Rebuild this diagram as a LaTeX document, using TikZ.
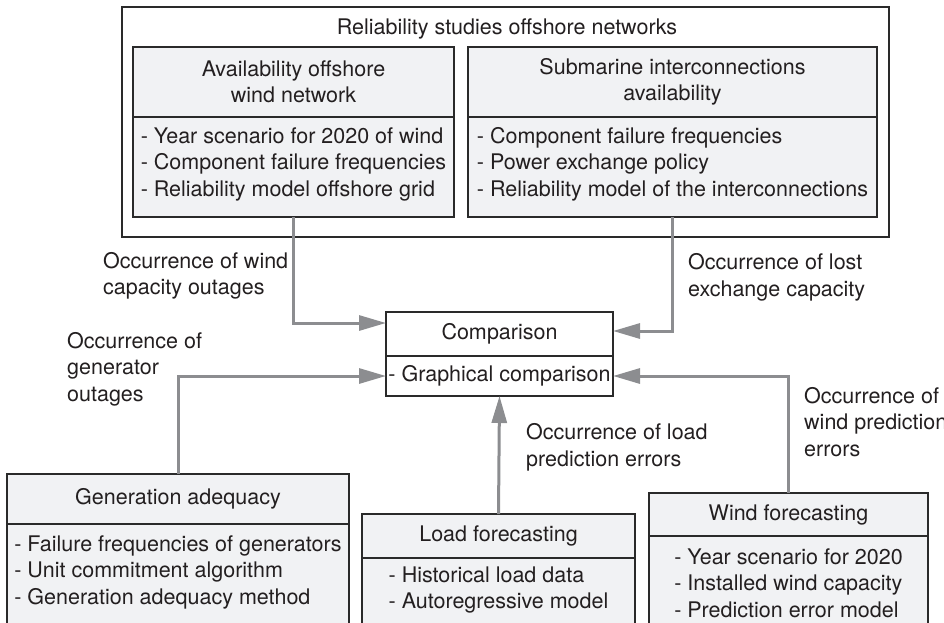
\documentclass[tikz,border=0pt]{standalone}
\usepackage{fontspec}
\setmainfont{TeX Gyre Heros}
\usetikzlibrary{arrows.meta,calc}
\definecolor{boxfill}{HTML}{F1F2F4}
\definecolor{boxline}{HTML}{2A2A2A}
\definecolor{flow}{HTML}{8C8D90}
\definecolor{ink}{HTML}{231F20}
\begin{document}
\begin{tikzpicture}[x=1pt,y=1pt,
  every node/.style={font=\fontsize{21.5pt}{26.5pt}\selectfont, text=ink},
  head/.style={draw=boxline, line width=1.4pt, fill=boxfill, inner sep=0pt,
    outer sep=0pt, anchor=north west, align=center},
  bodybox/.style={draw=boxline, line width=1.4pt, fill=boxfill, inner sep=0pt,
    outer sep=0pt, anchor=north west},
  plainbox/.style={draw=boxline, line width=1.4pt, fill=white, inner sep=0pt,
    outer sep=0pt, anchor=north west},
  list/.style={align=left, inner sep=0pt},
  note/.style={align=left, inner sep=0pt, anchor=west},
  flowline/.style={draw=flow, line width=3pt, -{Triangle[length=27pt,width=15pt]}}]

\useasboundingbox (0,0) rectangle (944,-622);

% group frame for the offshore network studies
\node[draw=boxline, line width=1.2pt, minimum width=767pt, minimum height=230pt,
  anchor=north west, inner sep=0pt, outer sep=0pt] (frame) at (122,-7) {};
\node (frametitle) at (507,-29) {Reliability studies offshore networks};

% offshore wind network availability
\node[head, minimum width=321pt, minimum height=70pt] (avh) at (133,-47)
  {Availability offshore\\wind network};
\node[bodybox, minimum width=321pt, minimum height=100pt] (avb) at (avh.south west) {};
\node[list] (avl) at (293.5,-164) {- Year scenario for 2020 of wind\\- Component failure frequencies\\- Reliability model offshore grid};

% submarine interconnections availability
\node[head, minimum width=409pt, minimum height=70pt] (sih) at (468,-47)
  {Submarine interconnections\\availability};
\node[bodybox, minimum width=409pt, minimum height=100pt] (sib) at (sih.south west) {};
\node[list] (sil) at (672.5,-164) {- Component failure frequencies\\- Power exchange policy\\- Reliability model of the interconnections};

% comparison
\node[plainbox, minimum width=227pt, minimum height=44pt] (cmph) at (386,-312) {Comparison};
\node[plainbox, minimum width=227pt, minimum height=40pt] (cmpb) at (cmph.south west) {- Graphical comparison};

% generation adequacy
\node[head, minimum width=342pt, minimum height=50pt] (gah) at (7,-474) {Generation adequacy};
\node[bodybox, minimum width=342pt, minimum height=130pt] (gab) at (gah.south west) {};
\node[list] (gal) at (178,-572) {- Failure frequencies of generators\\- Unit commitment algorithm\\- Generation adequacy method};

% load forecasting
\node[head, minimum width=273pt, minimum height=44pt] (lfh) at (362,-514) {Load forecasting};
\node[bodybox, minimum width=273pt, minimum height=100pt] (lfb) at (lfh.south west) {};
\node[list] (lfl) at (498.5,-590) {- Historical load data\\- Autoregressive model};

% wind forecasting
\node[head, minimum width=279pt, minimum height=43pt] (wfh) at (649,-493) {Wind forecasting};
\node[bodybox, minimum width=279pt, minimum height=110pt] (wfb) at (wfh.south west) {};
\node[list] (wfl) at (788.5,-583) {- Year scenario for 2020\\- Installed wind capacity\\- Prediction error model};

% flows into the comparison
\draw[flowline] (avb.south) |- ($(cmph.west)+(0,11)$);
\draw[flowline] (sib.south) |- ($(cmph.east)+(0,3)$);
\draw[flowline] (gah.north) |- (cmpb.west);
\draw[flowline] (wfh.north) |- (cmpb.east);
\draw[flowline] (lfh.north) -- (cmpb.south);

% flow labels
\node[note] (lwind) at (103,-276) {Occurrence of wind\\capacity outages};
\node[note] (lgen) at (67,-369) {Occurrence of\\generator\\outages};
\node[note] (lexch) at (688,-277.5) {Occurrence of lost\\exchange capacity};
\node[note] (lload) at (526,-447.5) {Occurrence of load\\prediction errors};
\node[note] (lpred) at (804,-422) {Occurrence of\\wind prediction\\errors};
\end{tikzpicture}
\end{document}
